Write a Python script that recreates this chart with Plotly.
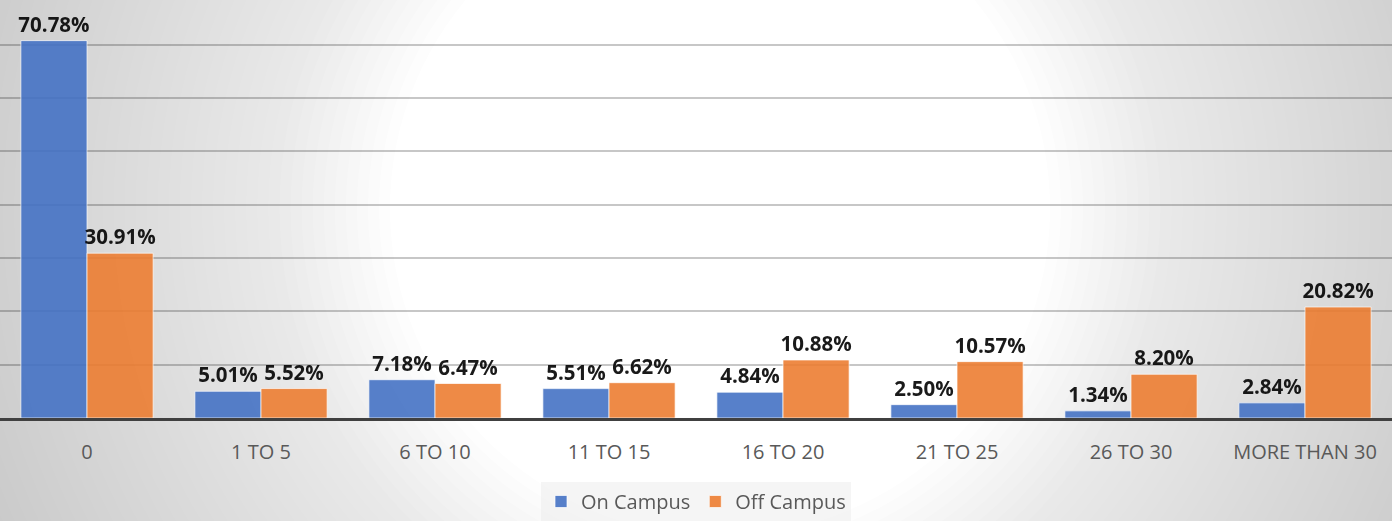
import plotly.graph_objects as go

categories = ["0", "1 TO 5", "6 TO 10", "11 TO 15", "16 TO 20", "21 TO 25", "26 TO 30", "MORE THAN 30"]
on_campus = [70.78, 5.01, 7.18, 5.51, 4.84, 2.50, 1.34, 2.84]
off_campus = [30.91, 5.52, 6.47, 6.62, 10.88, 10.57, 8.20, 20.82]

W, H = 1392, 521
PLOT_H = 421  # pixels of plot area (top margin 0)

fig = go.Figure()
label_font = dict(family="Open Sans", size=20.5, color="black", weight="bold")
fig.add_trace(go.Bar(
    name="On Campus", x=categories, y=on_campus,
    marker=dict(color="#4472C4", line=dict(color="rgba(255,255,255,0.7)", width=1)),
    opacity=0.9,
    texttemplate="%{y:.2f}%", textposition="outside", textfont=label_font,
    constraintext="none", cliponaxis=False,
))
fig.add_trace(go.Bar(
    name="Off Campus", x=categories, y=off_campus,
    marker=dict(color="#ED7D31", line=dict(color="rgba(255,255,255,0.7)", width=1)),
    opacity=0.9,
    texttemplate="%{y:.2f}%", textposition="outside", textfont=label_font,
    constraintext="none", cliponaxis=False,
))

# radial gradient background built from stacked translucent white circles
shapes = []
cx, cy = 720.0, 210.0
r_out, r_in = 850.0, 330.0
N = 48
for k in range(N):
    r = r_out - (r_out - r_in) * k / (N - 1)
    a = 1.0 / (N - k)
    shapes.append(dict(
        type="circle", xref="paper", yref="paper", layer="below",
        x0=(cx - r) / W, x1=(cx + r) / W,
        y0=(PLOT_H - (cy + r)) / PLOT_H, y1=(PLOT_H - (cy - r)) / PLOT_H,
        fillcolor=f"rgba(255,255,255,{a:.4f})", line=dict(width=0),
    ))

fig.update_layout(
    width=W, height=H,
    margin=dict(l=0, r=0, t=0, b=H - PLOT_H),
    paper_bgcolor="#c4c4c4",
    plot_bgcolor="rgba(0,0,0,0)",
    barmode="group", bargap=0.24, bargroupgap=0,
    shapes=shapes,
    showlegend=True,
    legend=dict(
        orientation="h", x=0.5, xanchor="center", y=(PLOT_H - 486) / PLOT_H, yanchor="top",
        font=dict(family="Open Sans", size=20, color="#595959"),
        bgcolor="rgba(236,236,236,0.55)", itemwidth=30, traceorder="normal",
    ),
    font=dict(family="Open Sans"),
)
fig.update_xaxes(
    showline=True, linecolor="#404040", linewidth=3,
    ticks="outside", ticklen=14, tickcolor="rgba(0,0,0,0)",
    tickfont=dict(family="Open Sans", size=20, color="#595959"),
    showgrid=False,
)
fig.update_yaxes(
    range=[0, 78.4], dtick=10, showticklabels=False,
    showgrid=True, gridcolor="rgba(0,0,0,0.22)", gridwidth=2,
    zeroline=False,
)

fig.write_html(
    "out.html",
    config={"displayModeBar": False},
    post_script="document.body.style.margin='0px';document.body.style.overflow='hidden';",
)
